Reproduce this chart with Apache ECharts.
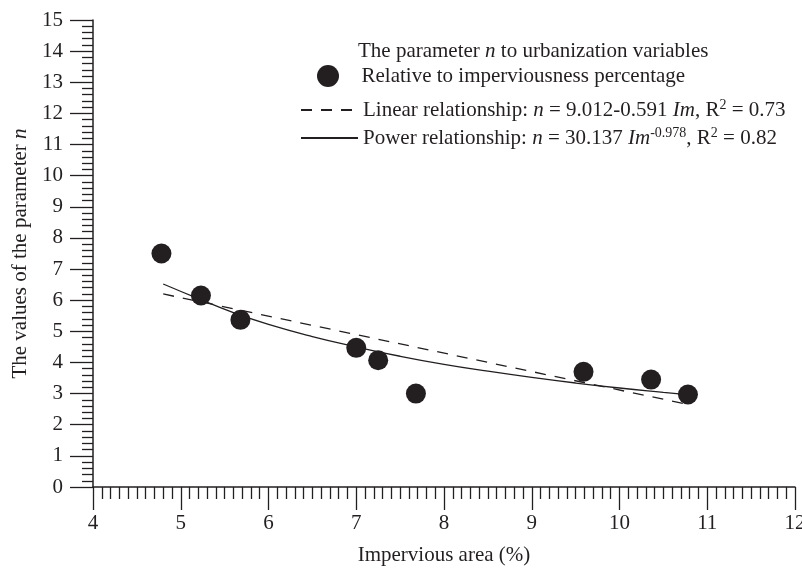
<!DOCTYPE html>
<html>
<head>
<meta charset="utf-8">
<script src="https://cdn.jsdelivr.net/npm/echarts@6/dist/echarts.min.js"></script>
<style>html,body{margin:0;padding:0;background:#fff}#c{width:802px;height:568px}</style>
</head>
<body>
<div id="c"></div>
<script>
var impervious = [4.78, 5.23, 5.68, 7.0, 7.25, 7.68, 9.59, 10.36, 10.78];
var nValues    = [7.50, 6.15, 5.37, 4.47, 4.07, 3.00, 3.70, 3.45, 2.97];
// Fitted lines
var linearX = [4.8, 10.8];
var linearY = [6.20, 2.64];
var powerX = [4.8, 5.2, 5.6, 6.0, 6.5, 7.0, 7.5, 8.0, 8.5, 9.0, 9.5, 10.0, 10.5, 10.8];
var powerY = [6.52, 6.05, 5.60, 5.22, 4.83, 4.50, 4.20, 3.94, 3.72, 3.52, 3.34, 3.18, 3.04, 2.96];
var xTicks = [4, 5, 6, 7, 8, 9, 10, 11, 12];
var yTicks = [0, 1, 2, 3, 4, 5, 6, 7, 8, 9, 10, 11, 12, 13, 14, 15];

var FONT = '"Liberation Serif", "DejaVu Serif", serif';
var INK = '#231f20';
var FS = 21;

function pairs(xs, ys) { return xs.map(function (x, i) { return [x, ys[i]]; }); }

var richStyles = {
  i: { fontFamily: FONT, fontStyle: 'italic', fontSize: FS, color: INK, lineHeight: 24 },
  sup: { fontFamily: FONT, fontSize: 14, color: INK, verticalAlign: 'top', lineHeight: 24 }
};
function legendText() {
  return { fontFamily: FONT, fontSize: FS, color: INK, lineHeight: 24, rich: richStyles };
}

var nameScatter = 'Relative to imperviousness percentage';
var nameLinear = 'Linear relationship';
var namePower = 'Power relationship';

var chart = echarts.init(document.getElementById('c'), null, { renderer: 'canvas' });
chart.setOption({
  backgroundColor: '#ffffff',
  animation: false,
  textStyle: { fontFamily: FONT, color: INK },
  title: {
    text: 'The parameter {i|n} to urbanization variables',
    left: 358, top: 39, padding: 0,
    textStyle: { fontFamily: FONT, fontSize: FS, fontWeight: 'normal', color: INK, lineHeight: 24, rich: richStyles }
  },
  legend: [
    {
      data: [nameScatter], orient: 'vertical', left: 317, top: 64, padding: 0,
      itemWidth: 57, itemHeight: 22, selectedMode: false,
      textStyle: legendText()
    },
    {
      data: [nameLinear], orient: 'vertical', left: 300, top: 98, padding: 0,
      itemWidth: 57, itemHeight: 22, selectedMode: false,
      itemStyle: { opacity: 0 },
      formatter: function () { return 'Linear relationship: {i|n} = 9.012-0.591 {i|Im}, R{sup|2} = 0.73'; },
      textStyle: legendText()
    },
    {
      data: [namePower], orient: 'vertical', left: 300, top: 126, padding: 0,
      itemWidth: 57, itemHeight: 22, selectedMode: false,
      itemStyle: { opacity: 0 },
      formatter: function () { return 'Power relationship: {i|n} = 30.137 {i|Im}{sup|-0.978}, R{sup|2} = 0.82'; },
      textStyle: legendText()
    }
  ],
  grid: { left: 93, right: 7, top: 20, bottom: 81, containLabel: false, outerBoundsMode: 'none' },
  xAxis: {
    type: 'value', min: xTicks[0], max: xTicks[xTicks.length - 1], interval: 1,
    name: 'Impervious area (%)', nameLocation: 'middle', nameGap: 58,
    nameTextStyle: { fontFamily: FONT, fontSize: FS, color: INK },
    axisLine: { show: true, onZero: false, lineStyle: { color: INK, width: 1.5 } },
    axisTick: { show: true, inside: false, length: 23, lineStyle: { color: INK, width: 1.3 } },
    minorTick: { show: true, splitNumber: 10, length: 12, lineStyle: { color: INK, width: 1.3 } },
    axisLabel: { margin: 26, fontFamily: FONT, fontSize: FS, color: INK, showMinLabel: true, showMaxLabel: true },
    splitLine: { show: false }
  },
  yAxis: {
    type: 'value', min: yTicks[0], max: yTicks[yTicks.length - 1], interval: 1,
    name: 'The values of the parameter {i|n}', nameLocation: 'middle', nameGap: 62, nameRotate: 90,
    nameTextStyle: { fontFamily: FONT, fontSize: FS, color: INK, rich: { i: { fontFamily: FONT, fontStyle: 'italic', fontSize: FS, color: INK } } },
    axisLine: { show: true, onZero: false, lineStyle: { color: INK, width: 1.5 } },
    axisTick: { show: true, inside: false, length: 23, lineStyle: { color: INK, width: 1.3 } },
    minorTick: { show: true, splitNumber: 5, length: 11, lineStyle: { color: INK, width: 1.3 } },
    axisLabel: { margin: 30, fontFamily: FONT, fontSize: FS, color: INK },
    splitLine: { show: false }
  },
  series: [
    {
      name: nameScatter, type: 'scatter', data: pairs(impervious, nValues),
      symbol: 'circle', symbolSize: 20, itemStyle: { color: INK, opacity: 1 }, z: 3
    },
    {
      name: nameLinear, type: 'line', data: pairs(linearX, linearY),
      symbol: 'none', lineStyle: { color: INK, width: 1.3, type: [11, 9] }, itemStyle: { color: INK }, z: 2
    },
    {
      name: namePower, type: 'line', data: pairs(powerX, powerY), smooth: true,
      symbol: 'none', lineStyle: { color: INK, width: 1.3, type: 'solid' }, itemStyle: { color: INK }, z: 2
    }
  ]
});
</script>
</body>
</html>
